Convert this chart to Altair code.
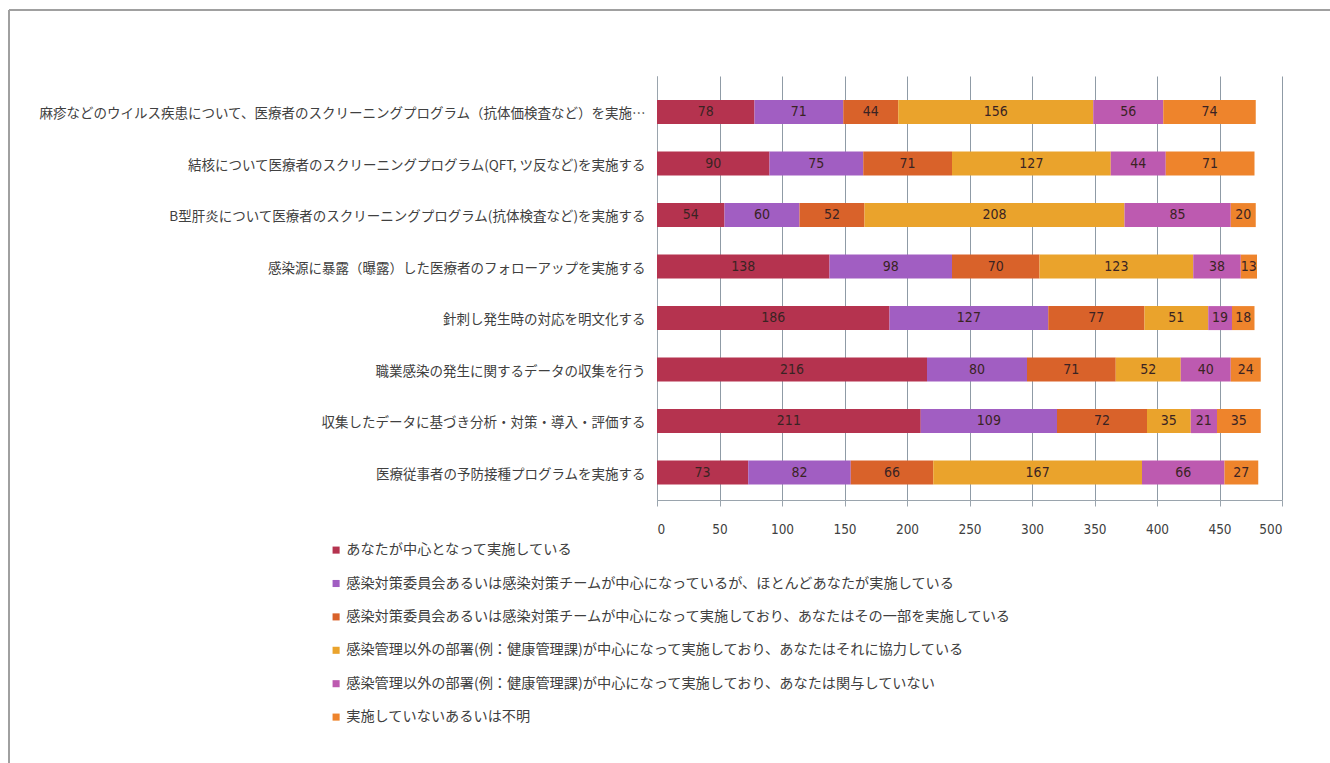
import altair as alt
import pandas as pd

items = [
    "麻疹などのウイルス疾患について、医療者のスクリーニングプログラム（抗体価検査など）を実施…",
    "結核について医療者のスクリーニングプログラム(QFT, ツ反など)を実施する",
    "B型肝炎について医療者のスクリーニングプログラム(抗体検査など)を実施する",
    "感染源に暴露（曝露）した医療者のフォローアップを実施する",
    "針刺し発生時の対応を明文化する",
    "職業感染の発生に関するデータの収集を行う",
    "収集したデータに基づき分析・対策・導入・評価する",
    "医療従事者の予防接種プログラムを実施する",
]

series_names = [
    "あなたが中心となって実施している",
    "感染対策委員会あるいは感染対策チームが中心になっているが、ほとんどあなたが実施している",
    "感染対策委員会あるいは感染対策チームが中心になって実施しており、あなたはその一部を実施している",
    "感染管理以外の部署(例：健康管理課)が中心になって実施しており、あなたはそれに協力している",
    "感染管理以外の部署(例：健康管理課)が中心になって実施しており、あなたは関与していない",
    "実施していないあるいは不明",
]

s1 = [78, 90, 54, 138, 186, 216, 211, 73]
s2 = [71, 75, 60, 98, 127, 80, 109, 82]
s3 = [44, 71, 52, 70, 77, 71, 72, 66]
s4 = [156, 127, 208, 123, 51, 52, 35, 167]
s5 = [56, 44, 85, 38, 19, 40, 21, 66]
s6 = [74, 71, 20, 13, 18, 24, 35, 27]
series_values = [s1, s2, s3, s4, s5, s6]

colors = ["#B5334F", "#A15EC2", "#D9622A", "#EAA32C", "#BD5AB0", "#EE842C"]

x_ticks = [0, 50, 100, 150, 200, 250, 300, 350, 400, 450, 500]

rows = []
for si, (name, vals) in enumerate(zip(series_names, series_values)):
    for item, v in zip(items, vals):
        rows.append({"item": item, "series": name, "order": si, "value": v})
df = pd.DataFrame(rows)

JP = "Noto Sans CJK JP"
NUM = "Liberation Sans Narrow, DejaVu Sans Condensed, Noto Sans"

base = alt.Chart(df)

bars = base.mark_bar(stroke=None).encode(
    y=alt.Y(
        "item:N",
        sort=items,
        title=None,
        scale=alt.Scale(paddingInner=0.534, paddingOuter=0.383, align=0.61),
        axis=alt.Axis(
            labelFont=JP,
            labelFontSize=13.5,
            labelColor="#404040",
            labelLimit=700,
            tickSize=0,
            labelPadding=12,
            labelBaseline="middle",
            labelOffset=2,
            domainColor="#9aa4ad",
            grid=False,
        ),
    ),
    x=alt.X(
        "value:Q",
        stack="zero",
        title=None,
        scale=alt.Scale(domain=[0, 500], nice=False),
        axis=alt.Axis(
            values=x_ticks,
            labelFont=NUM,
            labelFontSize=13.5,
            labelColor="#404040",
            tickSize=6,
            tickColor="#9aa4ad",
            labelPadding=16,
            domainColor="#9aa4ad",
            grid=True,
            gridColor="#8f9ba6",
            gridWidth=1,
        ),
    ),
    color=alt.Color(
        "series:N",
        sort=series_names,
        scale=alt.Scale(domain=series_names, range=colors),
        legend=alt.Legend(
            title=None,
            orient="none",
            legendX=-328,
            legendY=467,
            direction="vertical",
            symbolType="square",
            symbolSize=50,
            symbolStrokeWidth=0,
            labelFont=JP,
            labelFontSize=14.2,
            labelColor="#404040",
            labelLimit=900,
            labelOffset=3,
            rowPadding=18.4,
        ),
    ),
    order=alt.Order("order:Q", sort="ascending"),
)

labels = (
    base.transform_stack(
        stack="value",
        groupby=["item"],
        as_=["x0", "x1"],
        sort=[alt.SortField("order", order="ascending")],
    )
    .transform_calculate(mid="(datum.x0 + datum.x1) / 2")
    .mark_text(font=NUM, fontSize=14, color="#3a2323", baseline="middle", align="center")
    .encode(
        y=alt.Y("item:N", sort=items),
        x=alt.X("mid:Q"),
        text=alt.Text("value:Q"),
    )
)

frame_data = alt.Data(values=[{"k": 1}])
frame_top = alt.Chart(frame_data).mark_rule(color="#a0a0a0", strokeWidth=2).encode(
    x=alt.value(-648), x2=alt.value(673), y=alt.value(-66)
)
frame_left = alt.Chart(frame_data).mark_rule(color="#a0a0a0", strokeWidth=2).encode(
    x=alt.value(-648), y=alt.value(-66), y2=alt.value(687)
)

chart = (
    alt.layer(bars, labels, frame_top, frame_left)
    .properties(
        width=625,
        height=424,
        autosize=alt.AutoSizeParams(type="none"),
        padding={"left": 657, "top": 76, "right": 48, "bottom": 263},
        background="white",
    )
    .configure_view(stroke=None)
)

chart.save("out.html", embed_options={"renderer": "svg", "actions": False})
